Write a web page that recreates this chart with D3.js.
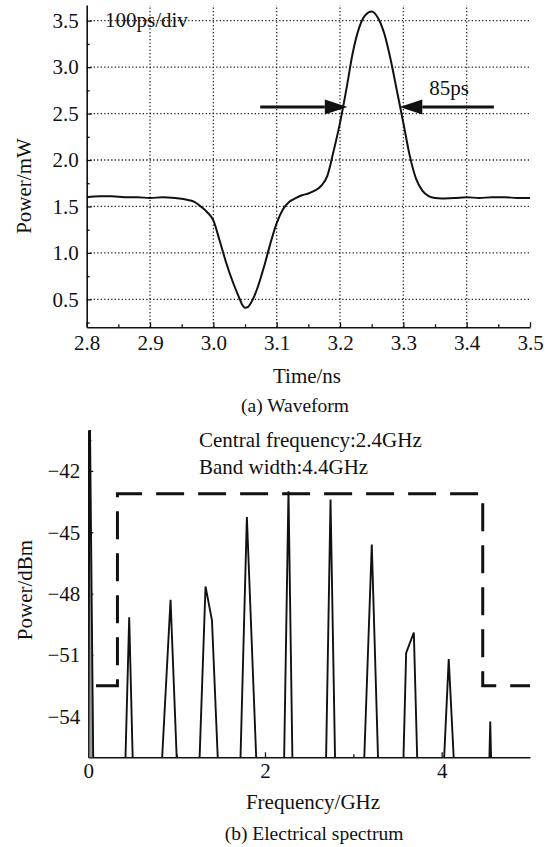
<!DOCTYPE html>
<html>
<head>
<meta charset="utf-8">
<script src="https://cdn.jsdelivr.net/npm/d3@7"></script>
<style>
  body { margin: 0; background: #fff; }
  svg text { font-family: "Liberation Serif", "Times New Roman", serif; fill: #111; }
  .tick line { stroke: #111; stroke-width: 1.3; }
  .domain { stroke: #111; stroke-width: 1.6; }
</style>
</head>
<body>
<script>
/* (a) waveform data */
const waveTime = [2.80, 2.82, 2.84, 2.86, 2.88, 2.90, 2.92, 2.94, 2.96, 2.97, 2.98, 2.99,
  3.00, 3.01, 3.02, 3.03, 3.04, 3.045, 3.05, 3.055, 3.06, 3.065, 3.07, 3.08, 3.09, 3.10,
  3.11, 3.12, 3.13, 3.14, 3.15, 3.16, 3.17, 3.18, 3.19, 3.20, 3.21, 3.22, 3.23, 3.24,
  3.25, 3.26, 3.27, 3.28, 3.29, 3.30, 3.31, 3.32, 3.33, 3.34, 3.35, 3.36, 3.38, 3.40,
  3.42, 3.44, 3.46, 3.48, 3.50];
const wavePower = [1.60, 1.61, 1.61, 1.60, 1.60, 1.59, 1.60, 1.59, 1.57, 1.55, 1.50, 1.44,
  1.35, 1.13, 0.90, 0.70, 0.53, 0.45, 0.41, 0.42, 0.47, 0.54, 0.63, 0.85, 1.10, 1.32,
  1.47, 1.55, 1.59, 1.62, 1.64, 1.67, 1.72, 1.83, 2.10, 2.40, 2.76, 3.15, 3.42, 3.56,
  3.60, 3.53, 3.36, 3.08, 2.74, 2.40, 2.05, 1.80, 1.67, 1.61, 1.59, 1.585, 1.59, 1.60,
  1.59, 1.60, 1.60, 1.59, 1.59];
const waveXTicks = [2.8, 2.9, 3.0, 3.1, 3.2, 3.3, 3.4, 3.5];
const waveYTicks = [0.5, 1.0, 1.5, 2.0, 2.5, 3.0, 3.5];

/* (b) spectrum data: each peak as base / top / base points */
const specFreq = [0.0, 0.015, 0.058,
  0.418, 0.463, 0.505,
  0.83, 0.931, 1.005,
  1.256, 1.327, 1.40, 1.47,
  1.72, 1.795, 1.905,
  2.215, 2.266, 2.312,
  2.69, 2.742, 2.795,
  3.12, 3.209, 3.283,
  3.565, 3.598, 3.685, 3.726,
  4.023, 4.08, 4.142,
  4.538, 4.55, 4.562];
const specPower = [-57, -38, -57,
  -56.5, -49.15, -56.5,
  -56.5, -48.3, -56.5,
  -56.5, -47.65, -49.3, -56.5,
  -56.5, -44.25, -56.5,
  -56.5, -43.0, -56.5,
  -56.5, -43.4, -56.5,
  -56.5, -45.6, -56.5,
  -56.5, -50.9, -49.9, -56.5,
  -56.5, -51.2, -56.5,
  -56.5, -54.25, -56.5];
const filterFreq = [0.087, 0.33, 0.33, 4.465, 4.465, 5.0];
const filterPower = [-52.5, -52.5, -43.12, -43.12, -52.5, -52.5];
const specXTicks = [0, 2, 4];
const specYTicks = [-42, -45, -48, -51, -54];

const width = 548, height = 847;
const fontFamily = '"Liberation Serif", "Times New Roman", serif';
const svg = d3.select("body").append("svg")
    .attr("width", width)
    .attr("height", height);

/**
 * Adds inward major + minor ticks for one axis
 */
function drawAxis(g, axisFn, scale, major, minor, fmt, pad) {
    g.append("g")
        .call(axisFn(scale).tickValues(minor).tickSize(-3).tickSizeOuter(0).tickFormat(""))
        .call(a => a.select(".domain").remove());
    g.append("g")
        .call(axisFn(scale).tickValues(major).tickSize(-5).tickSizeOuter(0)
            .tickPadding(pad).tickFormat(fmt))
        .attr("font-family", fontFamily)
        .call(a => a.selectAll("text").style("font-size", "21px").style("font-family", fontFamily));
}

/**
 * (a) Waveform
 */
function drawWaveform() {
    const x = d3.scaleLinear().domain([2.8, 3.5]).range([86.7, 530]);
    const y = d3.scaleLinear().domain([0.2, 3.67]).range([327.2, 4.9]);

    /* dotted grid */
    svg.append("g").selectAll("line").data(waveYTicks).enter()
        .append("line")
        .attr("x1", x(2.8)).attr("x2", x(3.5))
        .attr("y1", d => y(d)).attr("y2", d => y(d))
        .attr("stroke", "#222").attr("stroke-width", 1.3)
        .attr("stroke-dasharray", "1.3,2.2");
    svg.append("g").selectAll("line").data(waveXTicks.slice(1, -1)).enter()
        .append("line")
        .attr("x1", d => x(d)).attr("x2", d => x(d))
        .attr("y1", y(0.2)).attr("y2", y(3.67))
        .attr("stroke", "#222").attr("stroke-width", 1.3)
        .attr("stroke-dasharray", "1.3,2.2");

    const xg = svg.append("g").attr("transform", "translate(0," + y(0.2) + ")");
    drawAxis(xg, d3.axisBottom, x, waveXTicks,
        d3.range(2.85, 3.5, 0.1), d3.format(".1f"), 8);
    const yg = svg.append("g").attr("transform", "translate(" + x(2.8) + ",0)");
    drawAxis(yg, d3.axisLeft, y, waveYTicks,
        [0.25, 0.75, 1.25, 1.75, 2.25, 2.75, 3.25], d3.format(".1f"), 8);

    const line = d3.line()
        .x((d, i) => x(waveTime[i]))
        .y(d => y(d))
        .curve(d3.curveMonotoneX);
    svg.append("path")
        .datum(wavePower)
        .attr("d", line)
        .attr("fill", "none")
        .attr("stroke", "#111")
        .attr("stroke-width", 2);

    /* FWHM arrows */
    const ay = y(2.57);
    const arrows = [[3.074, 3.176, 3.2117], [3.443, 3.330, 3.294]];
    arrows.forEach(a => {
        svg.append("line")
            .attr("x1", x(a[0])).attr("x2", x(a[1]))
            .attr("y1", ay).attr("y2", ay)
            .attr("stroke", "#111").attr("stroke-width", 3);
        svg.append("path")
            .attr("d", "M" + x(a[2]) + "," + ay + "L" + x(a[1]) + "," + (ay - 7.5)
                + "L" + x(a[1]) + "," + (ay + 7.5) + "Z")
            .attr("fill", "#111");
    });

    svg.append("text").attr("x", x(3.341)).attr("y", 95)
        .style("font-size", "21px").text("85ps");
    svg.append("text").attr("x", 105).attr("y", 27)
        .style("font-size", "21px").text("100ps/div");

    svg.append("text")
        .attr("transform", "translate(31,186) rotate(-90)")
        .attr("text-anchor", "middle")
        .style("font-size", "21px")
        .text("Power/mW");
    svg.append("text").attr("x", 307).attr("y", 383)
        .attr("text-anchor", "middle").style("font-size", "21px").text("Time/ns");
    svg.append("text").attr("x", 295).attr("y", 412)
        .attr("text-anchor", "middle").style("font-size", "19.5px").text("(a) Waveform");
}

/**
 * (b) Electrical spectrum
 */
function drawSpectrum() {
    const x = d3.scaleLinear().domain([0, 5]).range([88.3, 530]);
    const y = d3.scaleLinear().domain([-56, -40]).range([757.3, 430]);

    svg.append("clipPath").attr("id", "specClip")
        .append("rect")
        .attr("x", x(0)).attr("y", y(-40))
        .attr("width", x(5) - x(0)).attr("height", y(-56) - y(-40));

    const xg = svg.append("g").attr("transform", "translate(0," + y(-56) + ")");
    drawAxis(xg, d3.axisBottom, x, specXTicks, [1, 3], d3.format("d"), 6);
    const yg = svg.append("g").attr("transform", "translate(" + x(0) + ",0)");
    drawAxis(yg, d3.axisLeft, y, specYTicks,
        [-40.5, -43.5, -46.5, -49.5, -52.5, -55.5], d3.format("d"), 8);

    const line = d3.line()
        .x((d, i) => x(specFreq[i]))
        .y(d => y(d));

    /* the DC spike reads as a grey band in the reference */
    svg.append("path")
        .datum(specPower.slice(0, 3))
        .attr("clip-path", "url(#specClip)")
        .attr("d", line)
        .attr("fill", "#9a9a9a")
        .attr("stroke", "none");

    svg.append("path")
        .datum(specPower)
        .attr("clip-path", "url(#specClip)")
        .attr("d", line)
        .attr("fill", "none")
        .attr("stroke", "#111")
        .attr("stroke-width", 1.9)
        .attr("stroke-linejoin", "miter");

    const fline = d3.line()
        .x((d, i) => x(filterFreq[i]))
        .y(d => y(d));
    svg.append("path")
        .datum(filterPower)
        .attr("d", fline)
        .attr("fill", "none")
        .attr("stroke", "#111")
        .attr("stroke-width", 3)
        .attr("stroke-dasharray", "28,14");

    svg.append("text").attr("x", 199).attr("y", 447)
        .style("font-size", "21px").text("Central frequency:2.4GHz");
    svg.append("text").attr("x", 199).attr("y", 474)
        .style("font-size", "21px").text("Band width:4.4GHz");

    svg.append("text")
        .attr("transform", "translate(32,590) rotate(-90)")
        .attr("text-anchor", "middle")
        .style("font-size", "21px")
        .text("Power/dBm");
    svg.append("text").attr("x", 313).attr("y", 809)
        .attr("text-anchor", "middle").style("font-size", "21px").text("Frequency/GHz");
    svg.append("text").attr("x", 314).attr("y", 840)
        .attr("text-anchor", "middle").style("font-size", "19.5px").text("(b) Electrical spectrum");
}

drawWaveform();
drawSpectrum();
</script>
</body>
</html>
